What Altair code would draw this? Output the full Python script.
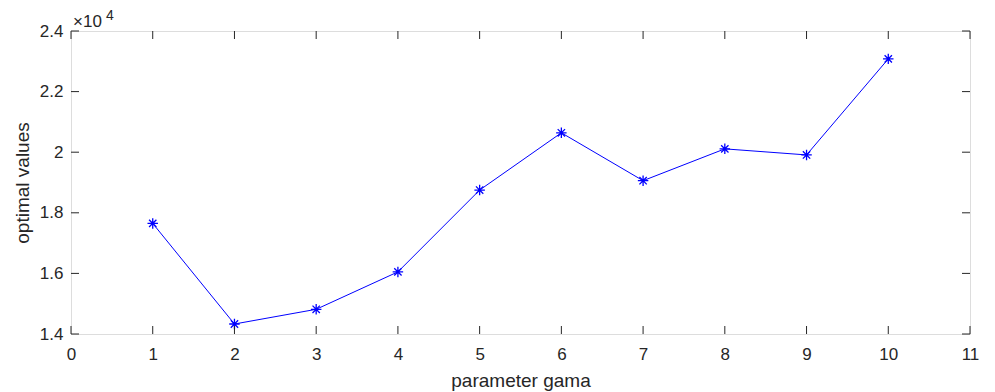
import altair as alt
import pandas as pd

# ---- data ----
gama = [1, 2, 3, 4, 5, 6, 7, 8, 9, 10]
optimal = [17650, 14330, 14815, 16050, 18750, 20640, 19060, 20110, 19910, 23080]
x_ticks = [0, 1, 2, 3, 4, 5, 6, 7, 8, 9, 10, 11]
y_ticks = [1.4, 1.6, 1.8, 2.0, 2.2, 2.4]
exponent_base = ["×10"]
exponent_power = ["4"]

W, H = 899, 303
FONT = "Liberation Sans"
AX = "#262626"
BLUE = "#0000FF"
ASTER = "M-1,0L1,0M0,-1L0,1M-0.7,-0.7L0.7,0.7M-0.7,0.7L0.7,-0.7"

df = pd.DataFrame({"gama": gama, "optimal": optimal})
xt = pd.DataFrame({"t": x_ticks})
yt = pd.DataFrame({"t": y_ticks})

xs = alt.Scale(domain=[0, 11], nice=False, zero=False)
ys = alt.Scale(domain=[1.4, 2.4], nice=False, zero=False)

xaxis = alt.Axis(values=x_ticks, title="parameter gama", domain=False, ticks=False,
                 grid=False, labelPadding=12, titlePadding=9, labelFontSize=17,
                 titleFontSize=19, labelFont=FONT, titleFont=FONT, labelColor=AX,
                 titleColor=AX, titleFontWeight="normal", labelFlush=False,
                 format="d")
yaxis = alt.Axis(values=y_ticks, title="optimal values", domain=False, ticks=False,
                 grid=False, labelPadding=8, titlePadding=7, labelFontSize=17,
                 titleFontSize=19, labelFont=FONT, titleFont=FONT, labelColor=AX,
                 titleColor=AX, titleFontWeight="normal", labelFlush=False,
                 labelExpr="format(datum.value, '.1~f')")

base = alt.Chart(df).transform_calculate(y="datum.optimal / 10000")
line = base.mark_line(color=BLUE, strokeWidth=1).encode(
    x=alt.X("gama:Q", scale=xs, axis=xaxis),
    y=alt.Y("y:Q", scale=ys, axis=yaxis),
)
pts = base.mark_point(shape=ASTER, size=110, filled=False, color=BLUE,
                      strokeWidth=1.3, opacity=1).encode(
    x=alt.X("gama:Q", scale=xs),
    y=alt.Y("y:Q", scale=ys),
)

TL = 8
xb = alt.Chart(xt).mark_rule(color=AX, strokeWidth=1).encode(
    x=alt.X("t:Q", scale=xs), y=alt.value(H), y2=alt.value(H - TL))
xtop = alt.Chart(xt).mark_rule(color=AX, strokeWidth=1).encode(
    x=alt.X("t:Q", scale=xs), y=alt.value(0), y2=alt.value(TL))
yl = alt.Chart(yt).mark_rule(color=AX, strokeWidth=1).encode(
    y=alt.Y("t:Q", scale=ys), x=alt.value(0), x2=alt.value(TL))
yr = alt.Chart(yt).mark_rule(color=AX, strokeWidth=1).encode(
    y=alt.Y("t:Q", scale=ys), x=alt.value(W), x2=alt.value(W - TL))

exp1 = alt.Chart(pd.DataFrame({"s": exponent_base})).mark_text(
    align="left", baseline="alphabetic", font=FONT, fontSize=17, color=AX).encode(
    text="s:N", x=alt.value(2), y=alt.value(-4))
exp2 = alt.Chart(pd.DataFrame({"s": exponent_power})).mark_text(
    align="left", baseline="alphabetic", font=FONT, fontSize=14, color=AX).encode(
    text="s:N", x=alt.value(35), y=alt.value(-11))

chart = alt.layer(line, pts, xb, xtop, yl, yr, exp1, exp2).properties(
    width=W, height=H,
    autosize=alt.AutoSizeParams(type="none"),
    padding={"left": 63, "top": 23, "right": 17, "bottom": 58},
).configure_view(stroke=AX, strokeWidth=1).configure(background="white")

chart.save("out.html", embed_options={"renderer": "svg", "actions": False})
